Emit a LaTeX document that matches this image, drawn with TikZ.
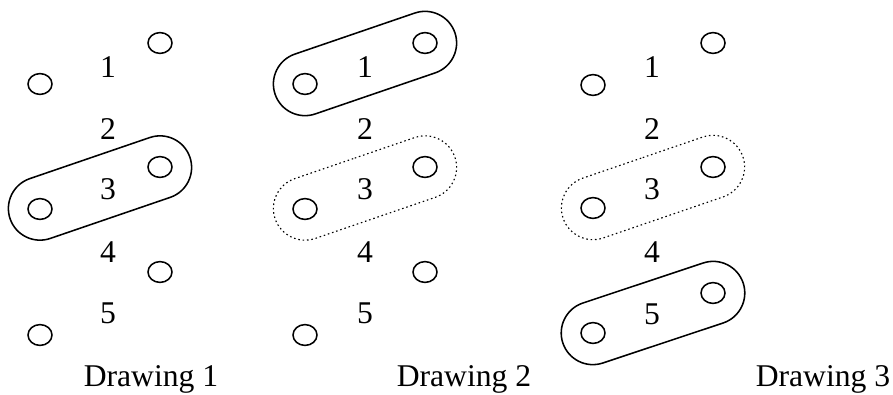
\documentclass[tikz,border=0pt]{standalone}
\usepackage{fontspec}
\setmainfont{Liberation Serif}
\usetikzlibrary{shapes.geometric,shapes.misc,calc}

\tikzset{
    hole/.style={draw, ellipse, line width=1.1pt, minimum width=0.6cm, minimum height=0.52cm, inner sep=0pt},
    num/.style={font=\fontsize{22.5}{27}\selectfont, inner sep=0pt},
    pairbox/.style={draw, rounded rectangle, line width=1.1pt, minimum width=4.75cm, minimum height=1.58cm, inner sep=0pt},
    ghostbox/.style={pairbox, dotted, line width=0.8pt}
}

\begin{document}
\begin{tikzpicture}[x=0.025cm, y=-0.025cm]
        \useasboundingbox (0,0) rectangle (893,394);

        % drawing 1
        \node (a1) at (160,  43) [hole] {};
        \node (a2) at ( 40,  84) [hole] {};
        \node (a3) at (160, 167) [hole] {};
        \node (a4) at ( 40, 209) [hole] {};
        \node (a5) at (160, 272) [hole] {};
        \node (a6) at ( 40, 335) [hole] {};
        \node (la1) at (108,  67) [num] {1};
        \node (la2) at (108, 129) [num] {2};
        \node (la3) at (108, 189) [num] {3};
        \node (la4) at (108, 252) [num] {4};
        \node (la5) at (108, 313) [num] {5};
        \node (ga) at ($(a3)!0.5!(a4)$) [pairbox, rotate=18.9] {};
        \node (ta) at (151, 386) [num, anchor=base] {Drawing 1};

        % drawing 2
        \node (b1) at (425,  43) [hole] {};
        \node (b2) at (305,  84) [hole] {};
        \node (b3) at (425, 167) [hole] {};
        \node (b4) at (305, 209) [hole] {};
        \node (b5) at (425, 272) [hole] {};
        \node (b6) at (305, 335) [hole] {};
        \node (lb1) at (365,  67) [num] {1};
        \node (lb2) at (365, 129) [num] {2};
        \node (lb3) at (365, 189) [num] {3};
        \node (lb4) at (365, 252) [num] {4};
        \node (lb5) at (365, 313) [num] {5};
        \node (gb1) at ($(b1)!0.5!(b2)$) [pairbox, rotate=18.9] {};
        \node (gb2) at ($(b3)!0.5!(b4)$) [ghostbox, rotate=18.9] {};
        \node (tb) at (464, 386) [num, anchor=base] {Drawing 2};

        % drawing 3
        \node (c1) at (713,  43) [hole] {};
        \node (c2) at (593,  85) [hole] {};
        \node (c3) at (713, 167) [hole] {};
        \node (c4) at (593, 208) [hole] {};
        \node (c5) at (713, 293) [hole] {};
        \node (c6) at (593, 333) [hole] {};
        \node (lc1) at (652,  67) [num] {1};
        \node (lc2) at (652, 129) [num] {2};
        \node (lc3) at (652, 189) [num] {3};
        \node (lc4) at (652, 252) [num] {4};
        \node (lc5) at (652, 314) [num] {5};
        \node (gc1) at ($(c3)!0.5!(c4)$) [ghostbox, rotate=18.9] {};
        \node (gc2) at ($(c5)!0.5!(c6)$) [pairbox, rotate=18.4] {};
        \node (tc) at (823, 386) [num, anchor=base] {Drawing 3};
    \end{tikzpicture}
\end{document}
